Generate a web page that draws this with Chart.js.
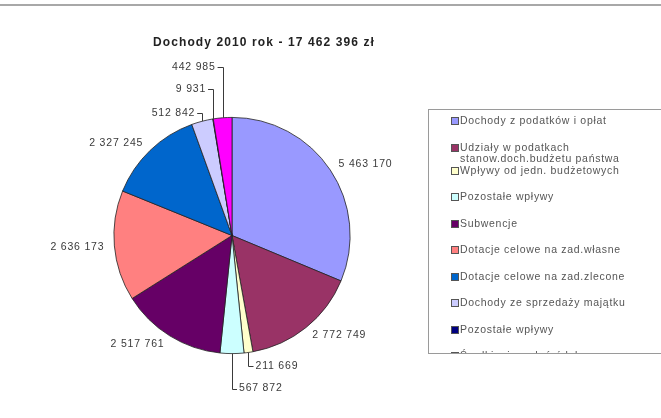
<!DOCTYPE html>
<html>
<head>
<meta charset="utf-8">
<script src="https://cdn.jsdelivr.net/npm/chart.js@4.4.1/dist/chart.umd.min.js"></script>
<style>
  html, body { margin: 0; padding: 0; background: #fff; }
  #wrap { position: relative; width: 661px; height: 418px; overflow: hidden; }
  #topline { position: absolute; left: 0; top: 4px; width: 661px; height: 2px; background: #a8a8a8; }
  #legend {
    position: absolute; left: 428px; top: 109px; width: 260px; height: 245px;
    border: 1px solid #9a9a9a; overflow: hidden; box-sizing: border-box;
    font-family: "Liberation Sans", Arial, sans-serif; font-size: 10.5px; letter-spacing: 0.7px; color: #555;
  }
  .item { position: absolute; left: 31px; line-height: 11px; white-space: nowrap; }
  .box { position: absolute; left: -9px; top: 2px; width: 6px; height: 6px; border: 1px solid #555; }
</style>
</head>
<body>
<div id="wrap">
  <div id="topline"></div>
  <canvas id="pie" width="661" height="418"></canvas>
  <div id="legend"></div>
</div>
<script>
const chartTitle = "Dochody 2010 rok - 17 462 396 zł";
const categories = [
  "Dochody z podatków i opłat",
  "Udziały w podatkach\nstanow.doch.budżetu państwa",
  "Wpływy od jedn. budżetowych",
  "Pozostałe wpływy",
  "Subwencje",
  "Dotacje celowe na zad.własne",
  "Dotacje celowe na zad.zlecone",
  "Dochody ze sprzedaży majątku",
  "Pozostałe wpływy",
  "Środki z innych źródeł"
];
const values = [5463170, 2772749, 211669, 567872, 2517761, 2636173, 2327245, 512842, 9931, 442985];
const colors = ["#9999FF", "#993366", "#FFFFCC", "#CCFFFF", "#660066", "#FF8080", "#0066CC", "#CCCCFF", "#000080", "#FF00FF"];

// leader line length for the thin slices (0 = plain label next to slice)
const leaderLen = [0, 0, 14, 35, 0, 0, 0, 8, 30, 51];

function fmt(v) {
  return String(v).replace(/\B(?=(\d{3})+(?!\d))/g, " ");
}

// legend
let legend = document.getElementById("legend");
categories.forEach((c, i) => {
  let d = document.createElement("div");
  d.className = "item";
  let top = 5 + i * 26.5 - (i >= 2 ? 3.5 : 0);
  d.style.top = top + "px";
  d.innerHTML = '<span class="box" style="background:' + colors[i] + '"></span>' + c.replace("\n", "<br>");
  legend.appendChild(d);
});

const labelPlugin = {
  id: "sliceLabels",
  afterDraw(chart) {
    let ctx = chart.ctx;
    let meta = chart.getDatasetMeta(0);
    ctx.save();
    // title
    ctx.font = "bold 12px 'Liberation Sans', Arial, sans-serif";
    ctx.letterSpacing = "1.1px";
    ctx.fillStyle = "#222";
    ctx.textAlign = "center";
    ctx.textBaseline = "middle";
    ctx.fillText(chartTitle, 264, 43);

    ctx.font = "10.5px 'Liberation Sans', Arial, sans-serif";
    ctx.letterSpacing = "0.8px";
    ctx.fillStyle = "#3a3a3a";
    ctx.strokeStyle = "#3a3a3a";
    ctx.lineWidth = 1;
    meta.data.forEach((arc, i) => {
      let p = arc.getProps(["x", "y", "startAngle", "endAngle", "outerRadius"], true);
      let mid = (p.startAngle + p.endAngle) / 2;
      let cx = Math.cos(mid), sy = Math.sin(mid);
      let txt = fmt(values[i]);
      if (leaderLen[i] > 0) {
        let ex = p.x + cx * p.outerRadius, ey = p.y + sy * p.outerRadius;
        let down = sy > 0;
        let ly = down ? ey + leaderLen[i] : ey - leaderLen[i];
        let lx = down ? ex + 5 : ex - 5;
        ctx.beginPath();
        ctx.moveTo(Math.round(ex) + 0.5, ey);
        ctx.lineTo(Math.round(ex) + 0.5, Math.round(ly) + 0.5);
        ctx.lineTo(lx, Math.round(ly) + 0.5);
        ctx.stroke();
        ctx.textAlign = down ? "left" : "right";
        ctx.fillText(txt, down ? lx + 2 : lx - 2, ly);
      } else {
        let r = p.outerRadius + 10;
        ctx.textAlign = cx >= 0 ? "left" : "right";
        ctx.fillText(txt, p.x + cx * r, p.y + sy * r);
      }
    });
    ctx.restore();
  }
};

new Chart(document.getElementById("pie"), {
  type: "pie",
  data: {
    labels: categories,
    datasets: [{
      data: values,
      backgroundColor: colors,
      borderColor: "#222",
      borderWidth: 0.8
    }]
  },
  options: {
    responsive: false,
    animation: false,
    layout: { padding: { left: 113, right: 310, top: 117, bottom: 64 } },
    plugins: {
      legend: { display: false },
      tooltip: { enabled: false }
    }
  },
  plugins: [labelPlugin]
});
</script>
</body>
</html>
